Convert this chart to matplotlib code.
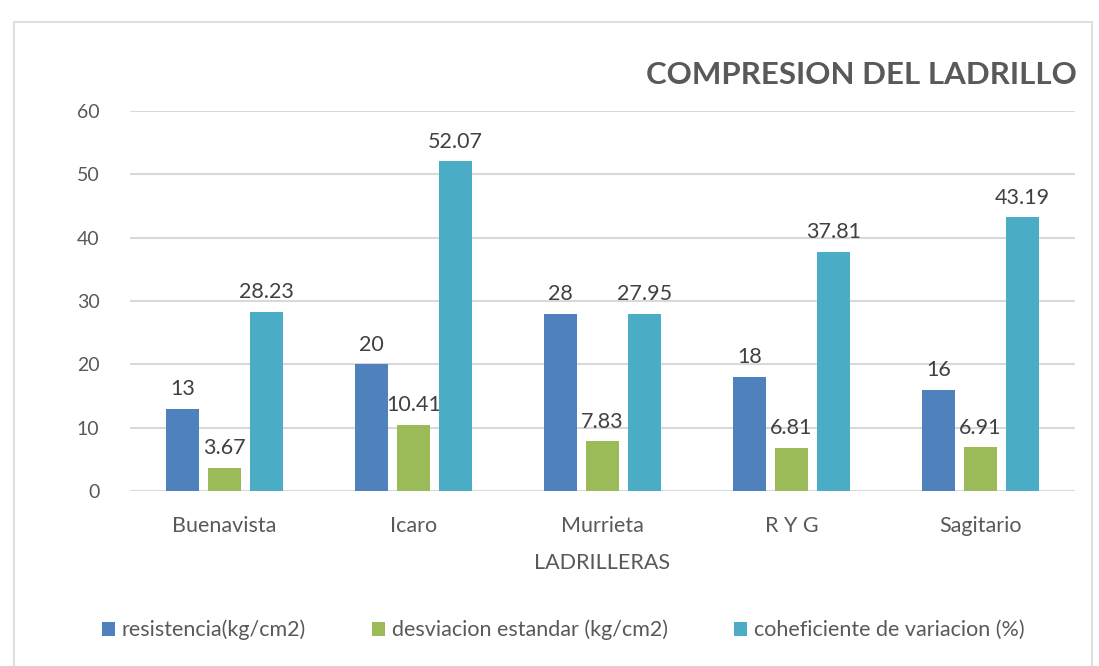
import matplotlib.pyplot as plt
import numpy as np
from matplotlib.patches import Rectangle

ladrilleras = ["Buenavista", "Icaro", "Murrieta", "R Y G", "Sagitario"]
resistencia = [13, 20, 28, 18, 16]
desviacion = [3.67, 10.41, 7.83, 6.81, 6.91]
coeficiente = [28.23, 52.07, 27.95, 37.81, 43.19]
resistencia_lbl = ["13", "20", "28", "18", "16"]
desviacion_lbl = ["3.67", "10.41", "7.83", "6.81", "6.91"]
coeficiente_lbl = ["28.23", "52.07", "27.95", "37.81", "43.19"]

plt.rcParams["font.family"] = ["Lato", "DejaVu Sans"]
txt = "#404040"

fig = plt.figure(figsize=(10.99, 6.66), dpi=100)
fig.patches.append(Rectangle((14 / 1099, -0.01), 1078 / 1099, 1 - 22 / 666 + 0.01,
                             transform=fig.transFigure, fill=False,
                             edgecolor="#D9D9D9", linewidth=1.2))
ax = fig.add_axes([130 / 1099, 175 / 666, 945 / 1099, 380 / 666])

x = np.arange(len(ladrilleras))
w = 0.175
off = 0.222
series = [
    (resistencia, resistencia_lbl, "#4F81BD", "resistencia(kg/cm2)"),
    (desviacion, desviacion_lbl, "#9BBB59", "desviacion estandar (kg/cm2)"),
    (coeficiente, coeficiente_lbl, "#4BACC6", "coheficiente de variacion (%)"),
]
for i, (vals, lbls, col, name) in enumerate(series):
    bars = ax.bar(x + (i - 1) * off, vals, w, color=col, label=name, zorder=3)
    ax.bar_label(bars, labels=lbls, padding=7, fontsize=15.5, color=txt)

ax.set_xlim(-0.5, 4.5)
ax.set_ylim(0, 60)
ax.set_yticks(range(0, 61, 10))
ax.yaxis.grid(True, color="#D9D9D9", linewidth=1.5, zorder=0)
for s in ax.spines.values():
    s.set_visible(False)
ax.tick_params(axis="y", length=0, labelsize=14, colors="#595959", pad=22)
ax.tick_params(axis="x", length=0, labelsize=15.5, colors="#595959", pad=18)
ax.set_xticks(x)
ax.set_xticklabels(ladrilleras)
ax.set_xlabel("LADRILLERAS", fontsize=15.5, color="#595959", labelpad=12)

fig.text(1077 / 1099, 1 - 75 / 666, "COMPRESION DEL LADRILLO", ha="right", va="center",
         fontsize=22.5, fontweight="bold", color="#595959")

fig.legend(loc="center", bbox_to_anchor=(563 / 1099, 1 - 630 / 666), ncol=3, frameon=False,
           fontsize=15.5, labelcolor="#595959", handlelength=0.6, handleheight=0.6,
           handletextpad=0.3, columnspacing=3.1)

fig.savefig("out.png", dpi=100)
